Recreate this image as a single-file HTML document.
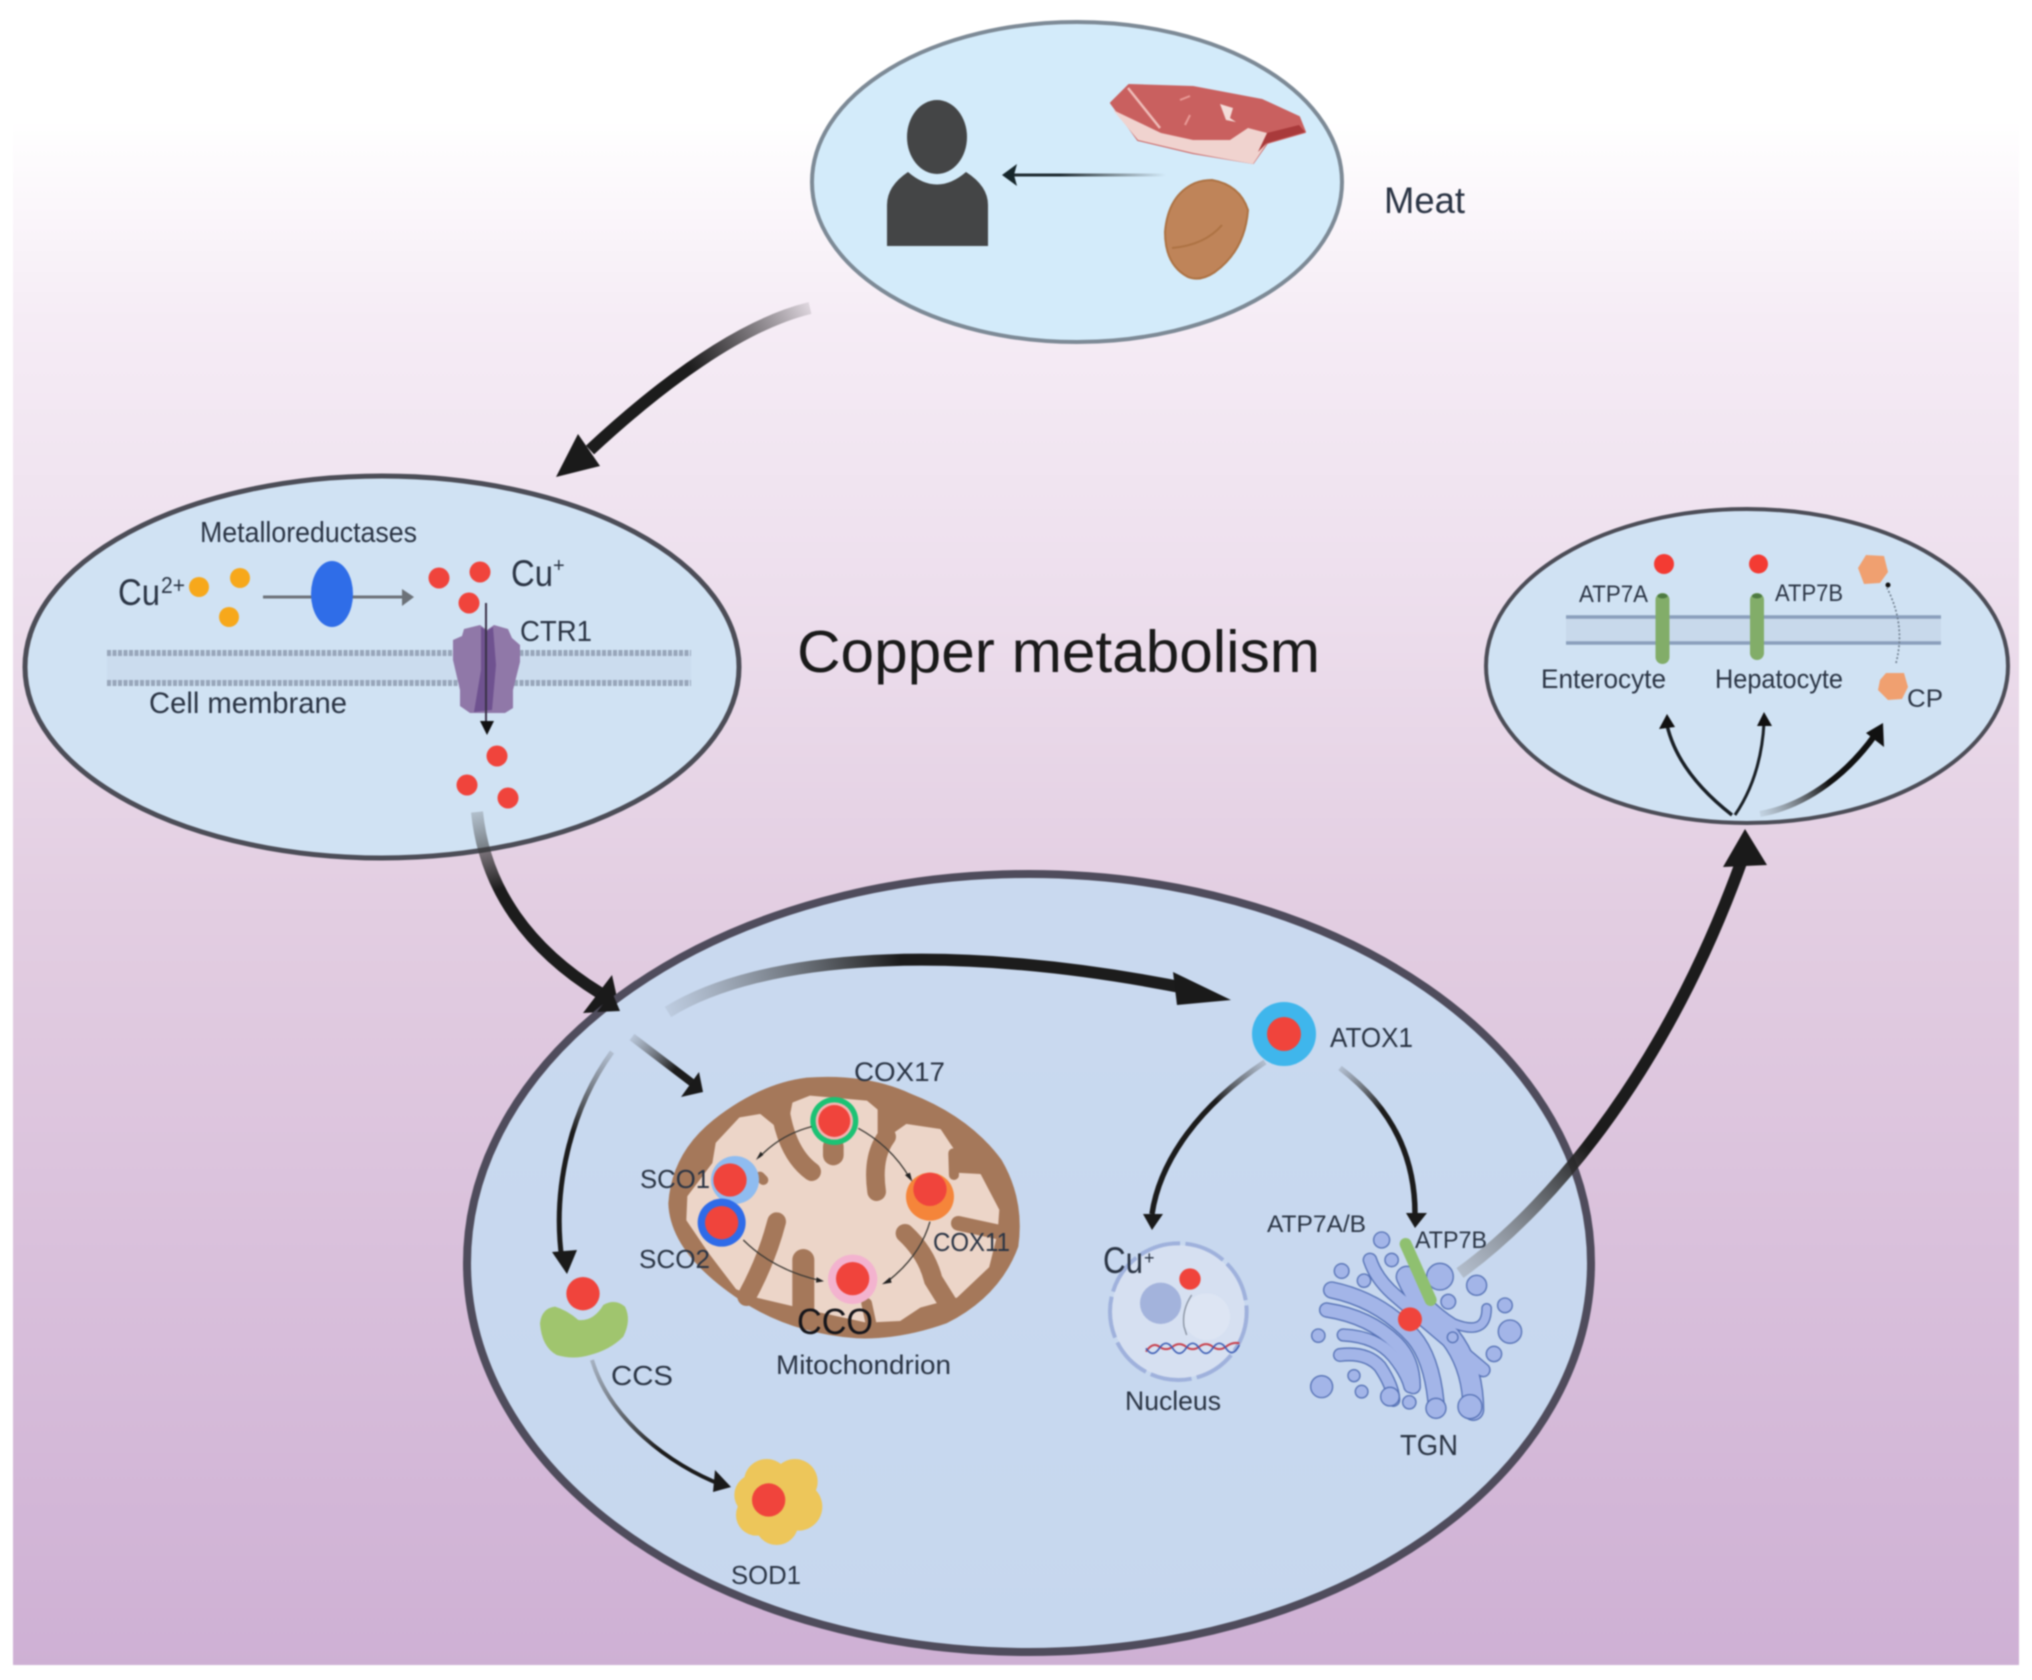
<!DOCTYPE html>
<html>
<head>
<meta charset="utf-8">
<style>
html,body{margin:0;padding:0;background:#fff;}
svg{display:block;filter:blur(0.7px);}
text{font-family:"Liberation Sans",sans-serif;fill:#2a3444;}
</style>
</head>
<body>
<svg width="2032" height="1680" viewBox="0 0 2032 1680" xmlns="http://www.w3.org/2000/svg">
<defs>
<linearGradient id="bg" x1="0" y1="0" x2="0" y2="1">
<stop offset="0" stop-color="#ffffff"/>
<stop offset="0.07" stop-color="#ffffff"/>
<stop offset="0.19" stop-color="#f5ecf5"/>
<stop offset="0.35" stop-color="#eddfed"/>
<stop offset="0.55" stop-color="#e2cde1"/>
<stop offset="1" stop-color="#ceb0d4"/>
</linearGradient>
<linearGradient id="big" x1="0" y1="0" x2="0" y2="1">
<stop offset="0" stop-color="#c9d9ef"/>
<stop offset="1" stop-color="#c6d7ee"/>
</linearGradient>
<linearGradient id="g1" gradientUnits="userSpaceOnUse" x1="810" y1="308" x2="690" y2="370"><stop offset="0" stop-color="#000" stop-opacity="0.1"/><stop offset="1" stop-color="#1c1c1c"/></linearGradient>
<linearGradient id="g2" gradientUnits="userSpaceOnUse" x1="477" y1="812" x2="495" y2="890"><stop offset="0" stop-color="#555" stop-opacity="0.25"/><stop offset="1" stop-color="#1c1c1c"/></linearGradient>
<linearGradient id="g3" gradientUnits="userSpaceOnUse" x1="668" y1="1012" x2="900" y2="960"><stop offset="0" stop-color="#555" stop-opacity="0.1"/><stop offset="1" stop-color="#1c1c1c"/></linearGradient>
<linearGradient id="g4" gradientUnits="userSpaceOnUse" x1="632" y1="1037" x2="675" y2="1070"><stop offset="0" stop-color="#555" stop-opacity="0.15"/><stop offset="1" stop-color="#1c1c1c"/></linearGradient>
<linearGradient id="g5" gradientUnits="userSpaceOnUse" x1="612" y1="1052" x2="570" y2="1130"><stop offset="0" stop-color="#555" stop-opacity="0.2"/><stop offset="1" stop-color="#1c1c1c"/></linearGradient>
<linearGradient id="g6" gradientUnits="userSpaceOnUse" x1="592" y1="1360" x2="660" y2="1450"><stop offset="0" stop-color="#555" stop-opacity="0.3"/><stop offset="1" stop-color="#1c1c1c"/></linearGradient>
<linearGradient id="g7" gradientUnits="userSpaceOnUse" x1="1460" y1="1273" x2="1590" y2="1150"><stop offset="0" stop-color="#888" stop-opacity="0.35"/><stop offset="1" stop-color="#1c1c1c"/></linearGradient>
<linearGradient id="g8" gradientUnits="userSpaceOnUse" x1="1166" y1="175" x2="1060" y2="175"><stop offset="0" stop-color="#333" stop-opacity="0"/><stop offset="1" stop-color="#1e2a30"/></linearGradient>
<linearGradient id="g9" gradientUnits="userSpaceOnUse" x1="1265" y1="1062" x2="1215" y2="1100"><stop offset="0" stop-color="#555" stop-opacity="0.2"/><stop offset="1" stop-color="#1c1c1c"/></linearGradient>
<linearGradient id="g10" gradientUnits="userSpaceOnUse" x1="1340" y1="1068" x2="1385" y2="1105"><stop offset="0" stop-color="#555" stop-opacity="0.2"/><stop offset="1" stop-color="#1c1c1c"/></linearGradient>
<linearGradient id="g11" gradientUnits="userSpaceOnUse" x1="1760" y1="814" x2="1830" y2="785"><stop offset="0" stop-color="#555" stop-opacity="0.1"/><stop offset="1" stop-color="#111"/></linearGradient>
</defs>

<!-- background panel -->
<rect width="2032" height="1680" fill="#fff"/>
<rect x="13" y="0" width="2006" height="1665" fill="url(#bg)"/>

<!-- top ellipse -->
<ellipse cx="1077" cy="182" rx="265" ry="160" fill="#d3ebfa" stroke="#7d8a96" stroke-width="4"/>
<ellipse cx="937" cy="137" rx="30" ry="37" fill="#444546"/>
<path d="M887 246 V205 Q887 186 908 172 Q937 197 966 172 Q988 186 988 205 V246 Z" fill="#444546"/>
<path d="M1166 175 L1012 175" stroke="url(#g8)" stroke-width="3" fill="none"/>
<polygon points="1002,175 1017,164 1014,175 1017,186" fill="#16262b"/>
<!-- steak -->
<path d="M1111 103 L1129 85 L1193 87 L1262 100 L1299 117 L1305 132 L1267 143 L1253 163 L1193 153 L1138 140 Z" fill="#c9605f" stroke="#c9605f" stroke-width="2" stroke-linejoin="round"/>
<path d="M1113 110 L1161 133 L1193 140 L1230 140 L1248 128 L1267 133 L1267 143 L1253 164 L1193 153 L1138 140 Z" fill="#f0d3cf" stroke-linejoin="round"/>
<path d="M1267 133 L1299 125 L1305 132 L1267 143 L1258 152 Z" fill="#a93a3b"/>
<path d="M1128 88 L1160 128" stroke="#eebcb8" stroke-width="2.5" fill="none"/>
<path d="M1220 104 L1233 108 L1230 118 L1236 122 L1226 120 Z" fill="#f3dcd8"/>
<path d="M1180 100 L1190 96 M1190 115 L1185 125" stroke="#e89a96" stroke-width="2" fill="none"/>
<!-- nut -->
<path d="M1212 180 Q1240 185 1248 210 Q1245 250 1215 272 Q1200 282 1188 277 Q1165 265 1165 232 Q1168 195 1195 183 Q1203 180 1212 180 Z" fill="#bf8459" stroke="#ad7243" stroke-width="2"/>
<path d="M1172 248 Q1205 245 1222 225" stroke="#ad7243" stroke-width="2" fill="none"/>
<text x="1384" y="213" font-size="37" textLength="81" lengthAdjust="spacingAndGlyphs">Meat</text>

<!-- arrow top->left -->
<path d="M810 308 C740 325 660 385 590 450" stroke="url(#g1)" stroke-width="12" fill="none"/>
<polygon points="556,477 578,434 600,466" fill="#1a1a1a"/>

<!-- left ellipse -->
<ellipse cx="382" cy="667" rx="357" ry="191" fill="#d0e2f3" stroke="#4c4d57" stroke-width="5"/>
<rect x="107" y="653" width="584" height="30" fill="#cbdcee"/>
<line x1="107" y1="653" x2="691" y2="653" stroke="#98a6ba" stroke-width="6" stroke-dasharray="4 1.5"/>
<line x1="107" y1="683" x2="691" y2="683" stroke="#98a6ba" stroke-width="6" stroke-dasharray="4 1.5"/>
<circle cx="199" cy="587" r="10" fill="#f7a81b"/>
<circle cx="240" cy="578" r="10" fill="#f7a81b"/>
<circle cx="229" cy="617" r="10" fill="#f7a81b"/>
<line x1="263" y1="597" x2="404" y2="597" stroke="#6c7278" stroke-width="3"/>
<polygon points="414,597 402,589 402,606" fill="#6c7278"/>
<ellipse cx="332" cy="594" rx="21" ry="33" fill="#2f6de8"/>
<circle cx="439" cy="578" r="10.5" fill="#f0443c"/>
<circle cx="480" cy="572" r="10.5" fill="#f0443c"/>
<circle cx="469" cy="603" r="10.5" fill="#f0443c"/>
<circle cx="497" cy="756" r="10.5" fill="#f0443c"/>
<circle cx="467" cy="785" r="10.5" fill="#f0443c"/>
<circle cx="508" cy="798" r="10.5" fill="#f0443c"/>
<!-- CTR1 -->
<path d="M464 629 L480 625 L487 630 L494 625 L508 629 L512 638 L520 645 L520 662 L513 690 L513 708 L505 713 L470 713 L460 706 L460 690 L453 660 L453 640 L462 636 Z" fill="#9078a8"/>
<path d="M481 627 L487 631 L493 627 L496 665 L492 710 L474 712 L481 670 Z" fill="#6f5290"/>
<line x1="486" y1="603" x2="486" y2="722" stroke="#3a3248" stroke-width="2"/>
<polygon points="487,735 480,721 494,721" fill="#111"/>
<text x="118" y="605" font-size="37" textLength="42" lengthAdjust="spacingAndGlyphs">Cu</text>
<text x="161" y="593" font-size="23" textLength="24" lengthAdjust="spacingAndGlyphs">2+</text>
<text x="511" y="586" font-size="37" textLength="42" lengthAdjust="spacingAndGlyphs">Cu</text>
<text x="553" y="572" font-size="20">+</text>
<text x="200" y="542" font-size="29" textLength="217" lengthAdjust="spacingAndGlyphs">Metalloreductases</text>
<text x="520" y="641" font-size="29" textLength="72" lengthAdjust="spacingAndGlyphs">CTR1</text>
<text x="149" y="713" font-size="30" textLength="198" lengthAdjust="spacingAndGlyphs">Cell membrane</text>

<!-- title -->
<text x="797" y="672" font-size="59" textLength="523" lengthAdjust="spacingAndGlyphs" style="fill:#1a1a1a">Copper metabolism</text>

<!-- right ellipse -->
<ellipse cx="1747" cy="666" rx="261" ry="157" fill="#d0e2f3" stroke="#4c4d57" stroke-width="4"/>
<rect x="1566" y="617" width="375" height="26" fill="#c8d9eb"/>
<line x1="1566" y1="617" x2="1941" y2="617" stroke="#8a9fbc" stroke-width="3.5"/>
<line x1="1566" y1="643" x2="1941" y2="643" stroke="#8a9fbc" stroke-width="3.5"/>
<rect x="1655.5" y="593" width="14" height="71" rx="7" fill="#82ad69"/>
<ellipse cx="1662.5" cy="596" rx="5" ry="2.5" fill="#4d7a42"/>
<rect x="1750" y="593" width="14" height="67" rx="7" fill="#82ad69"/>
<ellipse cx="1757" cy="596" rx="5" ry="2.5" fill="#4d7a42"/>
<circle cx="1664" cy="564" r="10" fill="#f33b33"/>
<circle cx="1758.5" cy="564" r="9.5" fill="#f33b33"/>
<polygon points="1866,555 1884,556 1888,572 1880,583 1864,584 1858,568" fill="#f0a070"/>
<polygon points="1886,673 1904,673 1908,687 1902,699 1888,700 1878,690 1880,680" fill="#f0a070"/>
<path d="M1896 663 Q1906 625 1887 588" stroke="#6d7c8c" stroke-width="1.6" stroke-dasharray="2 2" fill="none"/>
<circle cx="1888" cy="585" r="2.5" fill="#111"/>
<text x="1579" y="602" font-size="24" textLength="69" lengthAdjust="spacingAndGlyphs">ATP7A</text>
<text x="1775" y="601" font-size="24" textLength="68" lengthAdjust="spacingAndGlyphs">ATP7B</text>
<text x="1541" y="688" font-size="27" textLength="125" lengthAdjust="spacingAndGlyphs">Enterocyte</text>
<text x="1715" y="688" font-size="27" textLength="128" lengthAdjust="spacingAndGlyphs">Hepatocyte</text>
<text x="1907" y="707" font-size="25" textLength="36" lengthAdjust="spacingAndGlyphs">CP</text>
<path d="M1732 815 C1700 790 1675 760 1667 725" stroke="#1a2026" stroke-width="3.5" fill="none"/>
<polygon points="1667,714 1659,729 1675,727" fill="#111"/>
<path d="M1735 815 C1752 790 1762 760 1764 723" stroke="#1a2026" stroke-width="3" fill="none"/>
<polygon points="1764,712 1757,726 1772,726" fill="#111"/>
<path d="M1760 814 C1810 805 1850 770 1875 735" stroke="url(#g11)" stroke-width="6" fill="none"/>
<polygon points="1883,723 1866,733 1884,747" fill="#111"/>

<!-- arrow left -> big -->
<path d="M477 812 C485 890 530 950 600 993" stroke="url(#g2)" stroke-width="12" fill="none"/>
<polygon points="620,1011 583,1013 612,975" fill="#1a1a1a"/>

<!-- big ellipse -->
<ellipse cx="1029" cy="1263" rx="562" ry="389" fill="url(#big)" stroke="#4f4c5c" stroke-width="8"/>
<polygon points="620,1011 597,1012 612,992" fill="#1a1a1a"/>

<!-- arrow 3 -->
<path d="M668 1012 C760 955 950 940 1195 990" stroke="url(#g3)" stroke-width="12" fill="none"/>
<polygon points="1231,1000 1173,972 1177,1005" fill="#1a1a1a"/>
<!-- arrow to mito -->
<path d="M632 1037 L695 1085" stroke="url(#g4)" stroke-width="8" fill="none"/>
<polygon points="703,1092 681,1097 699,1072" fill="#1a1a1a"/>
<!-- arrow to CCS -->
<path d="M612 1052 C570 1110 552 1190 562 1260" stroke="url(#g5)" stroke-width="5" fill="none"/>
<polygon points="567,1274 552,1252 577,1250" fill="#1a1a1a"/>
<!-- CCS -> SOD1 -->
<path d="M592 1360 C610 1420 670 1465 722 1485" stroke="url(#g6)" stroke-width="4" fill="none"/>
<polygon points="731,1487 715,1470 713,1492" fill="#1a1a1a"/>

<!-- ATOX1 -->
<circle cx="1284" cy="1034" r="32" fill="#3fb6ec"/>
<circle cx="1284" cy="1034" r="17" fill="#f0443c"/>
<text x="1330" y="1047" font-size="28" textLength="83" lengthAdjust="spacingAndGlyphs">ATOX1</text>
<path d="M1265 1062 C1200 1105 1160 1160 1152 1214" stroke="url(#g9)" stroke-width="5.5" fill="none"/>
<polygon points="1152,1230 1143,1214 1163,1214" fill="#1a1a1a"/>
<path d="M1340 1068 C1395 1110 1415 1160 1415 1214" stroke="url(#g10)" stroke-width="5.5" fill="none"/>
<polygon points="1415,1228 1406,1213 1427,1213" fill="#1a1a1a"/>

<!-- mitochondrion (zoom coords) -->
<g transform="translate(600,1040) scale(0.3333)">
<path d="M205 490 Q215 340 340 240 Q480 130 620 113 Q800 100 930 160 Q1110 230 1205 360 Q1275 480 1255 620 Q1200 770 1040 850 Q900 900 770 895 Q570 880 420 780 Q210 640 205 490 Z" fill="#a5785a"/>
<path d="M350 310 L420 235 L480 225 L560 290 L580 190 L630 170 L800 185 L830 210 L830 290 L870 290 L920 255 L1020 270 L1060 330 L1050 400 L1140 405 L1195 510 L1190 580 L1165 680 L1070 770 L960 800 L900 840 L800 845 L640 810 L470 770 L410 745 L330 640 L262 540 L265 470 L340 370 Z" fill="#ecd5c8" stroke="#ecd5c8" stroke-width="6" stroke-linejoin="round"/>
<g stroke="#a5785a" fill="none" stroke-width="56" stroke-linecap="round">
<path d="M540 205 Q560 340 635 395"/>
<path d="M700 320 L700 345" stroke-width="62"/>
<path d="M860 290 Q815 350 830 455"/>
<path d="M1060 340 L1062 405" stroke-width="30"/>
<path d="M1075 550 L1205 578" stroke-width="44"/>
<path d="M530 545 Q500 660 440 770"/>
<path d="M610 660 L610 830" stroke-width="66"/>
<path d="M915 580 Q980 640 1000 720 L1050 800"/>
<path d="M800 790 L815 860" stroke-width="32"/>
<path d="M480 410 L490 420" stroke-width="30"/>
</g>
<circle cx="703" cy="243" r="72" fill="#1cc274"/>
<circle cx="703" cy="243" r="56" fill="#f3b3b0"/>
<circle cx="703" cy="243" r="48" fill="#f0443c"/>
<circle cx="405" cy="420" r="72" fill="#8fbcf0"/>
<circle cx="390" cy="420" r="50" fill="#f0443c"/>
<circle cx="365" cy="548" r="72" fill="#2f6be8"/>
<circle cx="365" cy="548" r="50" fill="#f0443c"/>
<circle cx="990" cy="470" r="72" fill="#f5853a"/>
<circle cx="990" cy="448" r="50" fill="#f0443c"/>
<circle cx="758" cy="718" r="74" fill="#f3b3cf"/>
<circle cx="758" cy="716" r="50" fill="#f0443c"/>
<g fill="none" stroke="#3d3a35" stroke-width="4">
<path d="M635 260 Q540 285 478 352"/>
<path d="M775 265 Q875 320 930 415"/>
<path d="M990 545 Q960 650 858 728"/>
<path d="M430 600 Q520 690 662 722"/>
</g>
<polygon points="468,360 490,345 482,335" fill="#222"/>
<polygon points="937,425 915,405 930,398" fill="#222"/>
<polygon points="846,733 870,712 875,728" fill="#222"/>
<polygon points="672,724 650,712 648,728" fill="#222"/>
</g>
<text x="854" y="1081" font-size="27" textLength="91" lengthAdjust="spacingAndGlyphs">COX17</text>
<text x="640" y="1188" font-size="26" textLength="70" lengthAdjust="spacingAndGlyphs">SCO1</text>
<text x="639" y="1268" font-size="26" textLength="71" lengthAdjust="spacingAndGlyphs">SCO2</text>
<text x="933" y="1251" font-size="26" textLength="77" lengthAdjust="spacingAndGlyphs">COX11</text>
<text x="797" y="1334" font-size="36" textLength="76" lengthAdjust="spacingAndGlyphs" style="fill:#15151a">CCO</text>
<text x="776" y="1374" font-size="27" textLength="175" lengthAdjust="spacingAndGlyphs">Mitochondrion</text>

<!-- CCS / SOD1 (zoom coords) -->
<g transform="translate(500,1260) scale(0.3333)">
<path d="M120 190 Q125 145 165 140 Q200 150 235 180 Q280 185 310 135 Q345 115 375 140 Q395 180 370 230 Q330 270 270 285 Q220 300 170 285 Q125 260 120 190 Z" fill="#a0c56e"/>
<circle cx="249" cy="101" r="50" fill="#f0443c"/>
<g fill="#edc65a">
<circle cx="800" cy="665" r="68"/><circle cx="885" cy="665" r="68"/><circle cx="895" cy="740" r="72"/>
<circle cx="830" cy="790" r="65"/><circle cx="770" cy="765" r="62"/><circle cx="765" cy="705" r="62"/><circle cx="830" cy="725" r="70"/>
</g>
<circle cx="806" cy="720" r="50" fill="#f0443c"/>
</g>
<text x="611" y="1385" font-size="28" textLength="62" lengthAdjust="spacingAndGlyphs">CCS</text>
<text x="731" y="1584" font-size="26" textLength="70" lengthAdjust="spacingAndGlyphs">SOD1</text>

<!-- big arrow to right ellipse -->
<path d="M1460 1273 C1560 1200 1670 1060 1742 860" stroke="url(#g7)" stroke-width="12" fill="none"/>
<polygon points="1745,829 1723,867 1767,865" fill="#1a1a1a"/>

<!-- nucleus and golgi (zoom coords) -->
<g transform="translate(1060,1180) scale(0.3333)">
<circle cx="355" cy="395" r="200" fill="#d6e0f1"/>
<circle cx="355" cy="395" r="205" fill="none" stroke="#9fb1dc" stroke-width="12" stroke-dasharray="125 16"/>
<circle cx="302" cy="370" r="62" fill="#a3b3dc"/>
<circle cx="440" cy="410" r="70" fill="#dde5f3"/>
<circle cx="390" cy="297" r="32" fill="#f0443c"/>
<path d="M395 345 Q365 390 372 440 L380 465" stroke="#87909f" stroke-width="4" fill="none"/>
<path d="M258 515 q20 -30 40 -15 t40 0 t40 0 t40 0 t40 0 t40 0 t40 -10" stroke="#c8404c" stroke-width="6" fill="none"/>
<path d="M258 505 q20 30 40 0 t40 0 t40 0 t40 0 t40 0 t40 0 t40 -10" stroke="#3f5fb5" stroke-width="5" fill="none"/>

<g fill="none" stroke-linecap="round" stroke="#5571b5">
<path d="M815 330 Q960 360 1060 470 Q1120 540 1130 690" stroke-width="52"/>
<path d="M800 390 Q930 410 1010 490 Q1060 540 1060 620" stroke-width="46"/>
<path d="M850 465 Q950 470 1000 530 Q1040 580 1050 620" stroke-width="40"/>
<path d="M1040 290 Q1080 380 1170 470 Q1240 560 1240 690" stroke-width="66"/>
<path d="M930 240 Q950 300 1010 350 Q1150 470 1270 570" stroke-width="44"/>
<path d="M1030 280 Q1100 380 1180 430 Q1280 470 1280 385" stroke-width="32"/>
<path d="M840 525 Q920 515 960 560 Q1000 620 1000 660" stroke-width="42"/>
</g>
<g fill="none" stroke-linecap="round" stroke="#a3b5e8">
<path d="M815 330 Q960 360 1060 470 Q1120 540 1130 690" stroke-width="44"/>
<path d="M800 390 Q930 410 1010 490 Q1060 540 1060 620" stroke-width="38"/>
<path d="M850 465 Q950 470 1000 530 Q1040 580 1050 620" stroke-width="32"/>
<path d="M1040 290 Q1080 380 1170 470 Q1240 560 1240 690" stroke-width="58"/>
<path d="M930 240 Q950 300 1010 350 Q1150 470 1270 570" stroke-width="36"/>
<path d="M1030 280 Q1100 380 1180 430 Q1280 470 1280 385" stroke-width="24"/>
<path d="M840 525 Q920 515 960 560 Q1000 620 1000 660" stroke-width="34"/>
</g>
<g fill="#a3b5e8" stroke="#5571b5" stroke-width="4">
<circle cx="965" cy="180" r="24"/><circle cx="845" cy="273" r="22"/><circle cx="912" cy="302" r="20"/>
<circle cx="1140" cy="290" r="40"/><circle cx="1250" cy="316" r="30"/><circle cx="1335" cy="376" r="22"/>
<circle cx="1350" cy="455" r="35"/><circle cx="1302" cy="522" r="23"/><circle cx="775" cy="467" r="20"/>
<circle cx="785" cy="620" r="33"/><circle cx="905" cy="635" r="19"/><circle cx="1048" cy="667" r="20"/>
<circle cx="882" cy="587" r="18"/><circle cx="1165" cy="365" r="22"/><circle cx="1178" cy="472" r="16"/>
<circle cx="995" cy="240" r="20"/><circle cx="990" cy="650" r="28"/><circle cx="1230" cy="680" r="36"/><circle cx="1128" cy="685" r="30"/>
</g>
<line x1="1037" y1="192" x2="1112" y2="360" stroke="#8fc070" stroke-width="36" stroke-linecap="round"/>
<circle cx="1050" cy="418" r="36" fill="#f0443c"/>
</g>
<text x="1103" y="1273" font-size="37" textLength="40" lengthAdjust="spacingAndGlyphs">Cu</text>
<text x="1144" y="1264" font-size="18">+</text>
<text x="1125" y="1410" font-size="27" textLength="96" lengthAdjust="spacingAndGlyphs">Nucleus</text>
<text x="1267" y="1232" font-size="24" textLength="99" lengthAdjust="spacingAndGlyphs">ATP7A/B</text>
<text x="1415" y="1248" font-size="24" textLength="72" lengthAdjust="spacingAndGlyphs">ATP7B</text>
<text x="1400" y="1455" font-size="29" textLength="58" lengthAdjust="spacingAndGlyphs">TGN</text>
</svg>
</body>
</html>
